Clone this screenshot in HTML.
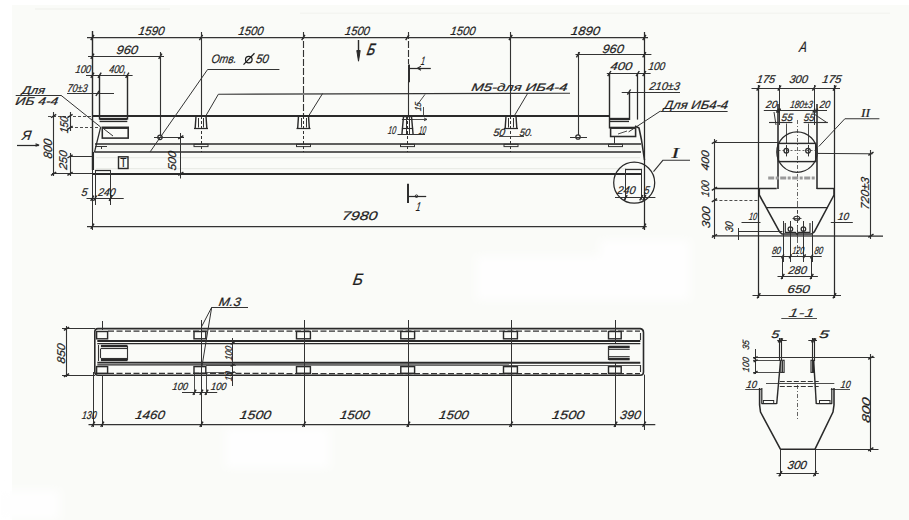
<!DOCTYPE html>
<html><head><meta charset="utf-8"><title>Drawing</title>
<style>
html,body{margin:0;padding:0;background:#fafbf8;}
svg{display:block;font-family:"Liberation Sans",sans-serif;}
</style></head>
<body>
<svg width="909" height="520" viewBox="0 0 909 520">
<defs><filter id="soft" x="-10%" y="-10%" width="120%" height="120%"><feGaussianBlur stdDeviation="4"/></filter></defs>
<rect x="0" y="0" width="909" height="520" fill="#fafbf8"/>
<rect x="0.0" y="0.0" width="909.0" height="5.0" fill="#ffffff"/>
<rect x="0.0" y="0.0" width="12.0" height="520.0" fill="#ffffff"/>
<g filter="url(#soft)" fill="#fefefe">
<rect x="476.0" y="256.0" width="179.0" height="44.0" fill="#fefefe"/>
<rect x="600.0" y="240.0" width="90.0" height="60.0" fill="#fefefe"/>
<rect x="225.0" y="428.0" width="105.0" height="40.0" fill="#fefefe"/>
<rect x="0.0" y="490.0" width="60.0" height="30.0" fill="#fefefe"/>
</g>
<rect x="35.0" y="8.0" width="135.0" height="2.0" fill="#f4f5f1"/>
<rect x="300.0" y="12.5" width="590.0" height="1.5" fill="#f4f5f1"/>
<rect x="96.0" y="145.0" width="544.0" height="5.5" fill="#f4f5f1"/>
<line x1="96.0" y1="157.5" x2="640.0" y2="157.5" stroke="#e9ebe6" stroke-width="1.25"/>
<line x1="96.0" y1="168.5" x2="640.0" y2="168.5" stroke="#e9ebe6" stroke-width="1.25"/>
<line x1="87.0" y1="37.5" x2="648.0" y2="37.5" stroke="#333333" stroke-width="1.25"/>
<line x1="90.8" y1="40.1" x2="94.0" y2="34.9" stroke="#2a2a2a" stroke-width="1.4300000000000002"/>
<line x1="199.4" y1="40.1" x2="202.6" y2="34.9" stroke="#2a2a2a" stroke-width="1.4300000000000002"/>
<line x1="301.7" y1="40.1" x2="304.9" y2="34.9" stroke="#2a2a2a" stroke-width="1.4300000000000002"/>
<line x1="405.7" y1="40.1" x2="408.9" y2="34.9" stroke="#2a2a2a" stroke-width="1.4300000000000002"/>
<line x1="509.0" y1="40.1" x2="512.2" y2="34.9" stroke="#2a2a2a" stroke-width="1.4300000000000002"/>
<line x1="642.7" y1="40.1" x2="645.9" y2="34.9" stroke="#2a2a2a" stroke-width="1.4300000000000002"/>
<text transform="translate(138.0,35.0) skewX(-9)" x="0" y="0" font-size="12.03" font-style="italic" font-weight="normal" fill="#1e1e1e" stroke="#1e1e1e" stroke-width="0.22" textLength="26.0" lengthAdjust="spacingAndGlyphs">1590</text>
<text transform="translate(238.0,35.0) skewX(-9)" x="0" y="0" font-size="12.03" font-style="italic" font-weight="normal" fill="#1e1e1e" stroke="#1e1e1e" stroke-width="0.22" textLength="25.0" lengthAdjust="spacingAndGlyphs">1500</text>
<text transform="translate(344.5,35.0) skewX(-9)" x="0" y="0" font-size="12.03" font-style="italic" font-weight="normal" fill="#1e1e1e" stroke="#1e1e1e" stroke-width="0.22" textLength="24.8" lengthAdjust="spacingAndGlyphs">1500</text>
<text transform="translate(450.0,35.0) skewX(-9)" x="0" y="0" font-size="12.03" font-style="italic" font-weight="normal" fill="#1e1e1e" stroke="#1e1e1e" stroke-width="0.22" textLength="25.0" lengthAdjust="spacingAndGlyphs">1500</text>
<text transform="translate(570.5,35.0) skewX(-9)" x="0" y="0" font-size="12.03" font-style="italic" font-weight="normal" fill="#1e1e1e" stroke="#1e1e1e" stroke-width="0.22" textLength="28.9" lengthAdjust="spacingAndGlyphs">1890</text>
<line x1="92.5" y1="31.0" x2="92.5" y2="170.0" stroke="#2a2a2a" stroke-width="1.4300000000000002"/>
<line x1="92.5" y1="170.0" x2="92.5" y2="230.0" stroke="#333333" stroke-width="1.0"/>
<line x1="644.5" y1="32.0" x2="644.5" y2="230.0" stroke="#2a2a2a" stroke-width="1.25"/>
<line x1="201.5" y1="32.0" x2="201.5" y2="116.0" stroke="#333333" stroke-width="1.125"/>
<line x1="510.5" y1="32.0" x2="510.5" y2="116.0" stroke="#333333" stroke-width="1.125"/>
<line x1="303.5" y1="32.0" x2="303.5" y2="116.0" stroke="#333333" stroke-width="1.125" stroke-dasharray="7,2"/>
<line x1="408.5" y1="32.0" x2="408.5" y2="64.0" stroke="#333333" stroke-width="1.125" stroke-dasharray="7,2"/>
<line x1="408.5" y1="82.0" x2="408.5" y2="116.0" stroke="#333333" stroke-width="1.125"/>
<line x1="201.5" y1="116.0" x2="201.5" y2="152.0" stroke="#333333" stroke-width="1.0" stroke-dasharray="3,2"/>
<line x1="303.5" y1="116.0" x2="303.5" y2="152.0" stroke="#333333" stroke-width="1.0" stroke-dasharray="3,2"/>
<line x1="407.5" y1="116.0" x2="407.5" y2="152.0" stroke="#333333" stroke-width="1.0" stroke-dasharray="3,2"/>
<line x1="510.5" y1="116.0" x2="510.5" y2="152.0" stroke="#333333" stroke-width="1.0" stroke-dasharray="3,2"/>
<line x1="88.0" y1="56.5" x2="164.0" y2="56.5" stroke="#333333" stroke-width="1.125"/>
<line x1="90.8" y1="58.8" x2="94.0" y2="53.6" stroke="#2a2a2a" stroke-width="1.4300000000000002"/>
<line x1="158.7" y1="58.8" x2="161.9" y2="53.6" stroke="#2a2a2a" stroke-width="1.4300000000000002"/>
<line x1="160.5" y1="52.0" x2="160.5" y2="135.0" stroke="#333333" stroke-width="1.125"/>
<text transform="translate(116.0,54.0) skewX(-9)" x="0" y="0" font-size="12.03" font-style="italic" font-weight="normal" fill="#1e1e1e" stroke="#1e1e1e" stroke-width="0.22" textLength="21.5" lengthAdjust="spacingAndGlyphs">960</text>
<line x1="575.5" y1="54.5" x2="651.4" y2="54.5" stroke="#333333" stroke-width="1.125"/>
<line x1="576.4" y1="57.3" x2="579.6" y2="52.1" stroke="#2a2a2a" stroke-width="1.4300000000000002"/>
<line x1="642.7" y1="57.3" x2="645.9" y2="52.1" stroke="#2a2a2a" stroke-width="1.4300000000000002"/>
<line x1="578.5" y1="52.0" x2="578.5" y2="135.0" stroke="#333333" stroke-width="1.125"/>
<text transform="translate(602.0,53.0) skewX(-9)" x="0" y="0" font-size="12.03" font-style="italic" font-weight="normal" fill="#1e1e1e" stroke="#1e1e1e" stroke-width="0.22" textLength="21.3" lengthAdjust="spacingAndGlyphs">960</text>
<line x1="86.0" y1="75.5" x2="132.6" y2="75.5" stroke="#333333" stroke-width="1.125"/>
<line x1="90.8" y1="77.9" x2="94.0" y2="72.7" stroke="#2a2a2a" stroke-width="1.4300000000000002"/>
<line x1="98.0" y1="77.9" x2="101.2" y2="72.7" stroke="#2a2a2a" stroke-width="1.4300000000000002"/>
<line x1="125.7" y1="77.9" x2="128.9" y2="72.7" stroke="#2a2a2a" stroke-width="1.4300000000000002"/>
<text transform="translate(75.0,73.0) skewX(-9)" x="0" y="0" font-size="11.28" font-style="italic" font-weight="normal" fill="#1e1e1e" stroke="#1e1e1e" stroke-width="0.22" textLength="15.5" lengthAdjust="spacingAndGlyphs">100</text>
<text transform="translate(108.7,73.0) skewX(-9)" x="0" y="0" font-size="11.28" font-style="italic" font-weight="normal" fill="#1e1e1e" stroke="#1e1e1e" stroke-width="0.22" textLength="17.3" lengthAdjust="spacingAndGlyphs">400,</text>
<line x1="606.8" y1="73.5" x2="650.6" y2="73.5" stroke="#333333" stroke-width="1.125"/>
<line x1="607.7" y1="76.2" x2="610.9" y2="71.0" stroke="#2a2a2a" stroke-width="1.4300000000000002"/>
<line x1="636.1" y1="76.2" x2="639.3" y2="71.0" stroke="#2a2a2a" stroke-width="1.4300000000000002"/>
<line x1="642.7" y1="76.2" x2="645.9" y2="71.0" stroke="#2a2a2a" stroke-width="1.4300000000000002"/>
<text transform="translate(610.0,70.3) skewX(-9)" x="0" y="0" font-size="11.28" font-style="italic" font-weight="normal" fill="#1e1e1e" stroke="#1e1e1e" stroke-width="0.22" textLength="21.6" lengthAdjust="spacingAndGlyphs">400</text>
<text transform="translate(648.0,70.3) skewX(-9)" x="0" y="0" font-size="11.28" font-style="italic" font-weight="normal" fill="#1e1e1e" stroke="#1e1e1e" stroke-width="0.22" textLength="16.6" lengthAdjust="spacingAndGlyphs">100</text>
<text transform="translate(67.0,91.6) skewX(-9)" x="0" y="0" font-size="11.28" font-style="italic" font-weight="normal" fill="#1e1e1e" stroke="#1e1e1e" stroke-width="0.22" textLength="20.0" lengthAdjust="spacingAndGlyphs">70±3</text>
<line x1="67.0" y1="93.5" x2="114.0" y2="93.5" stroke="#333333" stroke-width="1.125"/>
<line x1="95.9" y1="96.0" x2="99.1" y2="90.8" stroke="#2a2a2a" stroke-width="1.4300000000000002"/>
<text transform="translate(649.0,90.1) skewX(-9)" x="0" y="0" font-size="11.28" font-style="italic" font-weight="normal" fill="#1e1e1e" stroke="#1e1e1e" stroke-width="0.22" textLength="30.4" lengthAdjust="spacingAndGlyphs">210±3</text>
<line x1="621.7" y1="92.5" x2="680.0" y2="92.5" stroke="#333333" stroke-width="1.125"/>
<line x1="627.4" y1="94.7" x2="630.6" y2="89.5" stroke="#2a2a2a" stroke-width="1.4300000000000002"/>
<line x1="99.5" y1="75.3" x2="99.5" y2="119.6" stroke="#2a2a2a" stroke-width="1.4300000000000002"/>
<line x1="127.5" y1="75.3" x2="127.5" y2="119.6" stroke="#2a2a2a" stroke-width="1.4300000000000002"/>
<line x1="99.6" y1="119.0" x2="127.3" y2="119.0" stroke="#2a2a2a" stroke-width="2.3400000000000003"/>
<line x1="99.6" y1="121.5" x2="127.3" y2="121.5" stroke="#2a2a2a" stroke-width="1.25"/>
<rect x="102.3" y="127.3" width="25.9" height="10.8" stroke="#2a2a2a" stroke-width="1.56" fill="none"/>
<line x1="102.3" y1="128.5" x2="128.2" y2="128.5" stroke="#333333" stroke-width="1.0"/>
<line x1="104.0" y1="129.0" x2="113.0" y2="136.0" stroke="#333333" stroke-width="1.0"/>
<line x1="100.6" y1="127.3" x2="94.4" y2="152.5" stroke="#2a2a2a" stroke-width="1.25"/>
<line x1="609.5" y1="73.6" x2="609.5" y2="128.5" stroke="#2a2a2a" stroke-width="1.4300000000000002"/>
<line x1="637.5" y1="73.6" x2="637.5" y2="119.6" stroke="#2a2a2a" stroke-width="1.25"/>
<line x1="629.5" y1="92.0" x2="629.5" y2="120.0" stroke="#2a2a2a" stroke-width="1.4300000000000002"/>
<line x1="609.3" y1="119.0" x2="629.0" y2="119.0" stroke="#2a2a2a" stroke-width="2.3400000000000003"/>
<line x1="609.3" y1="121.5" x2="629.0" y2="121.5" stroke="#2a2a2a" stroke-width="1.25"/>
<rect x="610.6" y="127.5" width="25.0" height="9.0" stroke="#2a2a2a" stroke-width="1.56" fill="none"/>
<line x1="610.6" y1="128.5" x2="635.6" y2="128.5" stroke="#333333" stroke-width="1.0"/>
<line x1="614.5" y1="136.5" x2="614.5" y2="143.5" stroke="#333333" stroke-width="1.0"/>
<line x1="627.0" y1="131.0" x2="618.0" y2="134.0" stroke="#333333" stroke-width="0.875"/>
<polyline points="635.0,126.0 639.0,128.0 641.5,140.0 644.5,160.0" stroke="#2a2a2a" stroke-width="1.56" fill="none" stroke-linejoin="round"/>
<line x1="48.0" y1="116.5" x2="92.4" y2="116.5" stroke="#333333" stroke-width="0.875" stroke-dasharray="3,2"/>
<line x1="92.4" y1="116.0" x2="609.3" y2="116.0" stroke="#2a2a2a" stroke-width="1.885"/>
<line x1="95.0" y1="144.0" x2="641.0" y2="144.0" stroke="#2a2a2a" stroke-width="1.6900000000000002"/>
<line x1="95.0" y1="152.0" x2="641.0" y2="152.0" stroke="#2a2a2a" stroke-width="1.6900000000000002"/>
<line x1="52.0" y1="173.5" x2="92.4" y2="173.5" stroke="#333333" stroke-width="1.0"/>
<line x1="92.4" y1="174.0" x2="641.0" y2="174.0" stroke="#2a2a2a" stroke-width="1.885"/>
<line x1="70.0" y1="127.5" x2="101.0" y2="127.5" stroke="#333333" stroke-width="0.875" stroke-dasharray="3,2"/>
<line x1="71.0" y1="156.5" x2="92.0" y2="156.5" stroke="#333333" stroke-width="1.0"/>
<line x1="93.0" y1="152.0" x2="93.0" y2="170.0" stroke="#2a2a2a" stroke-width="2.08"/>
<line x1="95.0" y1="170.5" x2="110.7" y2="170.5" stroke="#2a2a2a" stroke-width="1.25"/>
<line x1="95.5" y1="170.0" x2="95.5" y2="205.0" stroke="#333333" stroke-width="1.0"/>
<line x1="110.5" y1="170.0" x2="110.5" y2="205.0" stroke="#333333" stroke-width="1.0"/>
<line x1="95.0" y1="146.5" x2="107.0" y2="146.5" stroke="#333333" stroke-width="1.0"/>
<line x1="101.5" y1="146.0" x2="101.5" y2="149.0" stroke="#333333" stroke-width="1.0"/>
<polyline points="195.2,128.0 196.0,116.0 206.0,116.0 206.8,128.0" stroke="#2a2a2a" stroke-width="1.4300000000000002" fill="none" stroke-linejoin="round"/>
<line x1="194.0" y1="128.5" x2="208.0" y2="128.5" stroke="#2a2a2a" stroke-width="1.25"/>
<line x1="198.5" y1="118.0" x2="198.5" y2="127.5" stroke="#333333" stroke-width="1.0"/>
<line x1="203.5" y1="118.0" x2="203.5" y2="127.5" stroke="#333333" stroke-width="1.0"/>
<polyline points="297.7,128.0 298.5,116.0 308.5,116.0 309.3,128.0" stroke="#2a2a2a" stroke-width="1.4300000000000002" fill="none" stroke-linejoin="round"/>
<line x1="296.5" y1="128.5" x2="310.5" y2="128.5" stroke="#2a2a2a" stroke-width="1.25"/>
<line x1="301.5" y1="118.0" x2="301.5" y2="127.5" stroke="#333333" stroke-width="1.0"/>
<line x1="306.5" y1="118.0" x2="306.5" y2="127.5" stroke="#333333" stroke-width="1.0"/>
<polyline points="505.2,128.0 506.0,116.0 516.0,116.0 516.8,128.0" stroke="#2a2a2a" stroke-width="1.4300000000000002" fill="none" stroke-linejoin="round"/>
<line x1="504.0" y1="128.5" x2="518.0" y2="128.5" stroke="#2a2a2a" stroke-width="1.25"/>
<line x1="508.5" y1="118.0" x2="508.5" y2="127.5" stroke="#333333" stroke-width="1.0"/>
<line x1="513.5" y1="118.0" x2="513.5" y2="127.5" stroke="#333333" stroke-width="1.0"/>
<polyline points="401.9,134.5 403.5,116.5 411.5,116.5 413.1,134.5" stroke="#2a2a2a" stroke-width="1.4300000000000002" fill="none" stroke-linejoin="round"/>
<line x1="401.9" y1="128.5" x2="413.1" y2="128.5" stroke="#2a2a2a" stroke-width="1.125"/>
<line x1="401.9" y1="119.5" x2="413.1" y2="119.5" stroke="#333333" stroke-width="1.0"/>
<line x1="406.5" y1="117.0" x2="406.5" y2="134.0" stroke="#333333" stroke-width="1.0"/>
<line x1="409.5" y1="117.0" x2="409.5" y2="134.0" stroke="#333333" stroke-width="1.0"/>
<line x1="397.5" y1="134.5" x2="425.0" y2="134.5" stroke="#333333" stroke-width="1.0"/>
<rect x="194.0" y="144.3" width="14.0" height="2.3" stroke="#333333" stroke-width="1.0" fill="none"/>
<rect x="296.5" y="144.3" width="14.0" height="2.3" stroke="#333333" stroke-width="1.0" fill="none"/>
<rect x="400.5" y="144.3" width="14.0" height="2.3" stroke="#333333" stroke-width="1.0" fill="none"/>
<rect x="504.0" y="144.3" width="14.0" height="2.3" stroke="#333333" stroke-width="1.0" fill="none"/>
<rect x="608.5" y="144.3" width="14.0" height="2.3" stroke="#333333" stroke-width="1.0" fill="none"/>
<line x1="218.4" y1="94.2" x2="570.0" y2="93.2" stroke="#333333" stroke-width="1.125"/>
<line x1="218.4" y1="94.2" x2="206.0" y2="115.5" stroke="#333333" stroke-width="1.0"/>
<line x1="322.6" y1="93.5" x2="308.9" y2="115.5" stroke="#333333" stroke-width="1.0"/>
<line x1="527.7" y1="93.3" x2="514.5" y2="115.5" stroke="#333333" stroke-width="1.0"/>
<text transform="translate(471.0,91.2) skewX(-9)" x="0" y="0" font-size="10.83" font-style="italic" font-weight="normal" fill="#1e1e1e" stroke="#1e1e1e" stroke-width="0.22" textLength="96.0" lengthAdjust="spacingAndGlyphs">М5-для ИБ4-4</text>
<text transform="translate(211.0,62.8) skewX(-9)" x="0" y="0" font-size="12.33" font-style="italic" font-weight="normal" fill="#1e1e1e" stroke="#1e1e1e" stroke-width="0.22" textLength="25.1" lengthAdjust="spacingAndGlyphs">Отв.</text>
<circle cx="248.8" cy="59.6" r="3.3" stroke="#1e1e1e" stroke-width="1.25" fill="none"/>
<line x1="243.5" y1="64.6" x2="254.5" y2="53.2" stroke="#1e1e1e" stroke-width="1.25"/>
<text transform="translate(255.4,62.8) skewX(-9)" x="0" y="0" font-size="12.33" font-style="italic" font-weight="normal" fill="#1e1e1e" stroke="#1e1e1e" stroke-width="0.22" textLength="12.9" lengthAdjust="spacingAndGlyphs">50</text>
<line x1="207.6" y1="69.5" x2="279.4" y2="69.5" stroke="#333333" stroke-width="1.125"/>
<line x1="207.6" y1="69.5" x2="150.0" y2="152.0" stroke="#333333" stroke-width="1.0"/>
<circle cx="160.0" cy="137.3" r="2.2" stroke="#2a2a2a" stroke-width="1.25" fill="none"/>
<line x1="154.0" y1="137.5" x2="184.0" y2="137.5" stroke="#333333" stroke-width="1.0"/>
<circle cx="578.0" cy="137.0" r="2.2" stroke="#2a2a2a" stroke-width="1.25" fill="none"/>
<line x1="570.0" y1="137.5" x2="587.0" y2="137.5" stroke="#333333" stroke-width="1.0"/>
<line x1="180.5" y1="133.0" x2="180.5" y2="178.5" stroke="#333333" stroke-width="1.0"/>
<line x1="178.2" y1="138.9" x2="183.4" y2="135.7" stroke="#2a2a2a" stroke-width="1.4300000000000002"/>
<line x1="178.2" y1="175.4" x2="183.4" y2="172.2" stroke="#2a2a2a" stroke-width="1.4300000000000002"/>
<text transform="translate(175.8,170.8) rotate(-90) skewX(-9)" x="0" y="0" font-size="11.28" font-style="italic" fill="#1e1e1e" stroke="#1e1e1e" stroke-width="0.22" textLength="19.3" lengthAdjust="spacingAndGlyphs">500</text>
<line x1="53.5" y1="112.0" x2="53.5" y2="176.0" stroke="#333333" stroke-width="1.125"/>
<line x1="51.0" y1="117.6" x2="56.2" y2="114.4" stroke="#2a2a2a" stroke-width="1.4300000000000002"/>
<line x1="51.0" y1="175.4" x2="56.2" y2="172.2" stroke="#2a2a2a" stroke-width="1.4300000000000002"/>
<text transform="translate(51.5,159.0) rotate(-90) skewX(-9)" x="0" y="0" font-size="12.03" font-style="italic" fill="#1e1e1e" stroke="#1e1e1e" stroke-width="0.22" textLength="19.6" lengthAdjust="spacingAndGlyphs">800</text>
<line x1="70.5" y1="112.0" x2="70.5" y2="131.0" stroke="#333333" stroke-width="1.125"/>
<line x1="67.4" y1="117.6" x2="72.6" y2="114.4" stroke="#2a2a2a" stroke-width="1.4300000000000002"/>
<line x1="67.4" y1="129.4" x2="72.6" y2="126.2" stroke="#2a2a2a" stroke-width="1.4300000000000002"/>
<text transform="translate(68.2,133.6) rotate(-90) skewX(-9)" x="0" y="0" font-size="11.28" font-style="italic" fill="#1e1e1e" stroke="#1e1e1e" stroke-width="0.22" textLength="16.6" lengthAdjust="spacingAndGlyphs">150</text>
<line x1="70.5" y1="153.0" x2="70.5" y2="176.0" stroke="#333333" stroke-width="1.125"/>
<line x1="67.4" y1="158.0" x2="72.6" y2="154.8" stroke="#2a2a2a" stroke-width="1.4300000000000002"/>
<line x1="67.4" y1="175.4" x2="72.6" y2="172.2" stroke="#2a2a2a" stroke-width="1.4300000000000002"/>
<text transform="translate(67.3,170.0) rotate(-90) skewX(-9)" x="0" y="0" font-size="11.28" font-style="italic" fill="#1e1e1e" stroke="#1e1e1e" stroke-width="0.22" textLength="19.0" lengthAdjust="spacingAndGlyphs">250</text>
<rect x="118.5" y="156.8" width="9.5" height="11.7" stroke="#2a2a2a" stroke-width="1.4300000000000002" fill="none"/>
<text transform="translate(120.3,166.5) skewX(0)" x="0" y="0" font-size="12.03" font-style="normal" font-weight="normal" fill="#1e1e1e" stroke="#1e1e1e" stroke-width="0.22" textLength="6.2" lengthAdjust="spacingAndGlyphs">T</text>
<text transform="translate(81.0,196.0) skewX(-9)" x="0" y="0" font-size="11.28" font-style="italic" font-weight="normal" fill="#1e1e1e" stroke="#1e1e1e" stroke-width="0.22" textLength="6.0" lengthAdjust="spacingAndGlyphs">5</text>
<text transform="translate(97.8,196.0) skewX(-9)" x="0" y="0" font-size="11.28" font-style="italic" font-weight="normal" fill="#1e1e1e" stroke="#1e1e1e" stroke-width="0.22" textLength="17.2" lengthAdjust="spacingAndGlyphs">240</text>
<line x1="86.5" y1="198.5" x2="123.7" y2="198.5" stroke="#333333" stroke-width="1.125"/>
<line x1="90.7" y1="200.9" x2="93.9" y2="195.7" stroke="#2a2a2a" stroke-width="1.4300000000000002"/>
<line x1="93.5" y1="200.9" x2="96.7" y2="195.7" stroke="#2a2a2a" stroke-width="1.4300000000000002"/>
<line x1="109.1" y1="200.9" x2="112.3" y2="195.7" stroke="#2a2a2a" stroke-width="1.4300000000000002"/>
<line x1="87.0" y1="226.5" x2="646.7" y2="226.5" stroke="#333333" stroke-width="1.25"/>
<line x1="90.8" y1="228.9" x2="94.0" y2="223.7" stroke="#2a2a2a" stroke-width="1.4300000000000002"/>
<line x1="642.7" y1="228.9" x2="645.9" y2="223.7" stroke="#2a2a2a" stroke-width="1.4300000000000002"/>
<text transform="translate(341.5,219.5) skewX(-9)" x="0" y="0" font-size="12.48" font-style="italic" font-weight="normal" fill="#1e1e1e" stroke="#1e1e1e" stroke-width="0.22" textLength="35.5" lengthAdjust="spacingAndGlyphs">7980</text>
<text transform="translate(387.5,134.4) skewX(-9)" x="0" y="0" font-size="11.28" font-style="italic" font-weight="normal" fill="#1e1e1e" stroke="#1e1e1e" stroke-width="0.22" textLength="8.1" lengthAdjust="spacingAndGlyphs">10</text>
<text transform="translate(418.6,134.4) skewX(-9)" x="0" y="0" font-size="11.28" font-style="italic" font-weight="normal" fill="#1e1e1e" stroke="#1e1e1e" stroke-width="0.22" textLength="6.9" lengthAdjust="spacingAndGlyphs">10</text>
<text transform="translate(493.0,135.8) skewX(-9)" x="0" y="0" font-size="10.53" font-style="italic" font-weight="normal" fill="#1e1e1e" stroke="#1e1e1e" stroke-width="0.22" textLength="11.6" lengthAdjust="spacingAndGlyphs">50</text>
<text transform="translate(519.2,135.8) skewX(-9)" x="0" y="0" font-size="10.53" font-style="italic" font-weight="normal" fill="#1e1e1e" stroke="#1e1e1e" stroke-width="0.22" textLength="13.1" lengthAdjust="spacingAndGlyphs">50.</text>
<line x1="499.0" y1="136.5" x2="524.0" y2="136.5" stroke="#333333" stroke-width="0.875"/>
<text transform="translate(421.0,111.3) rotate(-90) skewX(-9)" x="0" y="0" font-size="8.72" font-style="italic" fill="#1e1e1e" stroke="#1e1e1e" stroke-width="0.22" textLength="8.6" lengthAdjust="spacingAndGlyphs">15</text>
<line x1="425.0" y1="94.4" x2="418.0" y2="103.8" stroke="#333333" stroke-width="0.875"/>
<line x1="423.5" y1="107.0" x2="423.5" y2="117.0" stroke="#333333" stroke-width="0.875"/>
<line x1="413.0" y1="119.5" x2="427.0" y2="119.5" stroke="#333333" stroke-width="0.875"/>
<polyline points="424.0,118.0 427.0,119.4 424.0,120.8" stroke="#333333" stroke-width="0.875" fill="none" stroke-linejoin="round"/>
<line x1="409.0" y1="64.6" x2="409.0" y2="82.3" stroke="#2a2a2a" stroke-width="1.9500000000000002"/>
<line x1="409.0" y1="68.5" x2="430.8" y2="68.5" stroke="#2a2a2a" stroke-width="1.25"/>
<polyline points="421.0,66.2 417.5,68.2 421.0,70.2" stroke="#2a2a2a" stroke-width="1.125" fill="none" stroke-linejoin="round"/>
<text transform="translate(420.5,64.5) skewX(-9)" x="0" y="0" font-size="12.03" font-style="italic" font-weight="normal" fill="#1e1e1e" stroke="#1e1e1e" stroke-width="0.22" textLength="4.0" lengthAdjust="spacingAndGlyphs">1</text>
<line x1="408.0" y1="183.8" x2="408.0" y2="203.0" stroke="#2a2a2a" stroke-width="1.9500000000000002"/>
<line x1="408.5" y1="196.5" x2="426.2" y2="196.5" stroke="#2a2a2a" stroke-width="1.25"/>
<circle cx="416.5" cy="196.2" r="1.3" stroke="#2a2a2a" stroke-width="1.0" fill="none"/>
<text transform="translate(415.4,211.0) skewX(-9)" x="0" y="0" font-size="12.63" font-style="italic" font-weight="normal" fill="#1e1e1e" stroke="#1e1e1e" stroke-width="0.22" textLength="4.6" lengthAdjust="spacingAndGlyphs">1</text>
<line x1="358.5" y1="40.0" x2="358.5" y2="56.0" stroke="#2a2a2a" stroke-width="1.4300000000000002"/>
<polygon points="356.8,50.5 358.5,61.2 360.2,50.5" stroke="#2a2a2a" stroke-width="1.0" fill="#2a2a2a" stroke-linejoin="round"/>
<text transform="translate(366.2,55.2) skewX(-12)" font-size="16.5" font-style="italic" fill="#1e1e1e" stroke="#1e1e1e" stroke-width="0.5" textLength="8" lengthAdjust="spacingAndGlyphs">Б</text>
<text transform="translate(21.5,140.0) skewX(-9)" x="0" y="0" font-size="13.53" font-style="italic" font-weight="normal" fill="#1e1e1e" stroke="#1e1e1e" stroke-width="0.22" textLength="9.0" lengthAdjust="spacingAndGlyphs">Я</text>
<line x1="17.0" y1="145.5" x2="38.8" y2="145.5" stroke="#2a2a2a" stroke-width="1.25"/>
<polyline points="35.5,146.2 38.8,145.0 35.5,143.8" stroke="#2a2a2a" stroke-width="1.25" fill="none" stroke-linejoin="round"/>
<text transform="translate(21.5,94.0) skewX(-9)" x="0" y="0" font-size="11.28" font-style="italic" font-weight="normal" fill="#1e1e1e" stroke="#1e1e1e" stroke-width="0.22" textLength="23.0" lengthAdjust="spacingAndGlyphs">Для</text>
<text transform="translate(15.0,104.7) skewX(-9)" x="0" y="0" font-size="11.28" font-style="italic" font-weight="normal" fill="#1e1e1e" stroke="#1e1e1e" stroke-width="0.22" textLength="42.7" lengthAdjust="spacingAndGlyphs">ИБ 4-4</text>
<line x1="15.7" y1="95.5" x2="61.0" y2="95.5" stroke="#333333" stroke-width="1.125"/>
<line x1="61.0" y1="95.3" x2="100.6" y2="127.0" stroke="#333333" stroke-width="1.0"/>
<text transform="translate(663.6,108.8) skewX(-9)" x="0" y="0" font-size="12.03" font-style="italic" font-weight="normal" fill="#1e1e1e" stroke="#1e1e1e" stroke-width="0.22" textLength="64.0" lengthAdjust="spacingAndGlyphs">Для  ИБ4-4</text>
<line x1="660.3" y1="111.5" x2="727.6" y2="111.5" stroke="#333333" stroke-width="1.125"/>
<line x1="660.3" y1="111.1" x2="628.6" y2="131.9" stroke="#333333" stroke-width="1.0"/>
<circle cx="634.2" cy="182.7" r="20.5" stroke="#2a2a2a" stroke-width="1.25" fill="none"/>
<polyline points="653.5,171.7 663.0,160.2 690.0,160.2" stroke="#333333" stroke-width="1.125" fill="none" stroke-linejoin="round"/>
<text transform="translate(671.5,158.3)" font-family="Liberation Serif" font-style="italic" font-size="15" fill="#1e1e1e" stroke="#1e1e1e" stroke-width="0.22" textLength="7.5" lengthAdjust="spacingAndGlyphs">I</text>
<text transform="translate(617.0,193.8) skewX(-9)" x="0" y="0" font-size="11.28" font-style="italic" font-weight="normal" fill="#1e1e1e" stroke="#1e1e1e" stroke-width="0.22" textLength="18.0" lengthAdjust="spacingAndGlyphs">240</text>
<text transform="translate(643.8,193.8) skewX(-9)" x="0" y="0" font-size="11.28" font-style="italic" font-weight="normal" fill="#1e1e1e" stroke="#1e1e1e" stroke-width="0.22" textLength="5.2" lengthAdjust="spacingAndGlyphs">5</text>
<line x1="615.0" y1="197.5" x2="655.4" y2="197.5" stroke="#333333" stroke-width="1.125"/>
<line x1="625.5" y1="168.8" x2="625.5" y2="199.7" stroke="#333333" stroke-width="1.0"/>
<line x1="641.5" y1="168.8" x2="641.5" y2="199.7" stroke="#333333" stroke-width="1.0"/>
<line x1="625.6" y1="169.5" x2="641.3" y2="169.5" stroke="#333333" stroke-width="1.25"/>
<line x1="624.0" y1="200.3" x2="627.2" y2="195.1" stroke="#2a2a2a" stroke-width="1.4300000000000002"/>
<line x1="639.7" y1="200.3" x2="642.9" y2="195.1" stroke="#2a2a2a" stroke-width="1.4300000000000002"/>
<line x1="642.7" y1="200.3" x2="645.9" y2="195.1" stroke="#2a2a2a" stroke-width="1.4300000000000002"/>
<text transform="translate(798.7,51.5) skewX(-9)" x="0" y="0" font-size="15.04" font-style="italic" font-weight="normal" fill="#1e1e1e" stroke="#1e1e1e" stroke-width="0.22" textLength="7.6" lengthAdjust="spacingAndGlyphs">А</text>
<line x1="751.5" y1="88.5" x2="840.0" y2="88.5" stroke="#333333" stroke-width="1.125"/>
<line x1="756.7" y1="90.7" x2="759.9" y2="85.5" stroke="#2a2a2a" stroke-width="1.4300000000000002"/>
<line x1="777.8" y1="90.7" x2="781.0" y2="85.5" stroke="#2a2a2a" stroke-width="1.4300000000000002"/>
<line x1="812.4" y1="90.7" x2="815.6" y2="85.5" stroke="#2a2a2a" stroke-width="1.4300000000000002"/>
<line x1="833.0" y1="90.7" x2="836.2" y2="85.5" stroke="#2a2a2a" stroke-width="1.4300000000000002"/>
<text transform="translate(756.3,82.9) skewX(-9)" x="0" y="0" font-size="11.28" font-style="italic" font-weight="normal" fill="#1e1e1e" stroke="#1e1e1e" stroke-width="0.22" textLength="18.3" lengthAdjust="spacingAndGlyphs">175</text>
<text transform="translate(789.0,82.9) skewX(-9)" x="0" y="0" font-size="11.28" font-style="italic" font-weight="normal" fill="#1e1e1e" stroke="#1e1e1e" stroke-width="0.22" textLength="18.3" lengthAdjust="spacingAndGlyphs">300</text>
<text transform="translate(821.7,82.9) skewX(-9)" x="0" y="0" font-size="11.28" font-style="italic" font-weight="normal" fill="#1e1e1e" stroke="#1e1e1e" stroke-width="0.22" textLength="19.3" lengthAdjust="spacingAndGlyphs">175</text>
<line x1="758.5" y1="85.0" x2="758.5" y2="298.0" stroke="#2a2a2a" stroke-width="1.25"/>
<line x1="834.5" y1="85.0" x2="834.5" y2="298.0" stroke="#2a2a2a" stroke-width="1.25"/>
<line x1="779.5" y1="85.0" x2="779.5" y2="125.0" stroke="#333333" stroke-width="1.0"/>
<line x1="814.5" y1="85.0" x2="814.5" y2="125.0" stroke="#333333" stroke-width="1.0"/>
<line x1="778.0" y1="104.0" x2="778.0" y2="189.0" stroke="#2a2a2a" stroke-width="1.56"/>
<line x1="817.0" y1="104.0" x2="817.0" y2="189.0" stroke="#2a2a2a" stroke-width="1.56"/>
<line x1="763.8" y1="110.5" x2="827.0" y2="110.5" stroke="#333333" stroke-width="1.125"/>
<line x1="776.4" y1="112.6" x2="778.8" y2="108.6" stroke="#2a2a2a" stroke-width="1.4300000000000002"/>
<line x1="778.2" y1="112.6" x2="780.6" y2="108.6" stroke="#2a2a2a" stroke-width="1.4300000000000002"/>
<line x1="812.8" y1="112.6" x2="815.2" y2="108.6" stroke="#2a2a2a" stroke-width="1.4300000000000002"/>
<line x1="815.4" y1="112.6" x2="817.8" y2="108.6" stroke="#2a2a2a" stroke-width="1.4300000000000002"/>
<text transform="translate(765.6,108.0) skewX(-9)" x="0" y="0" font-size="10.53" font-style="italic" font-weight="normal" fill="#1e1e1e" stroke="#1e1e1e" stroke-width="0.22" textLength="11.2" lengthAdjust="spacingAndGlyphs">20</text>
<text transform="translate(789.8,108.0) skewX(-9)" x="0" y="0" font-size="10.53" font-style="italic" font-weight="normal" fill="#1e1e1e" stroke="#1e1e1e" stroke-width="0.22" textLength="22.5" lengthAdjust="spacingAndGlyphs">180±3</text>
<text transform="translate(819.2,108.0) skewX(-9)" x="0" y="0" font-size="10.53" font-style="italic" font-weight="normal" fill="#1e1e1e" stroke="#1e1e1e" stroke-width="0.22" textLength="10.4" lengthAdjust="spacingAndGlyphs">20</text>
<line x1="769.0" y1="122.5" x2="792.4" y2="122.5" stroke="#333333" stroke-width="1.125"/>
<line x1="803.6" y1="122.5" x2="827.9" y2="122.5" stroke="#333333" stroke-width="1.125"/>
<text transform="translate(781.1,121.0) skewX(-9)" x="0" y="0" font-size="10.53" font-style="italic" font-weight="normal" fill="#1e1e1e" stroke="#1e1e1e" stroke-width="0.22" textLength="11.3" lengthAdjust="spacingAndGlyphs">55</text>
<text transform="translate(803.6,121.0) skewX(-9)" x="0" y="0" font-size="10.53" font-style="italic" font-weight="normal" fill="#1e1e1e" stroke="#1e1e1e" stroke-width="0.22" textLength="10.4" lengthAdjust="spacingAndGlyphs">55</text>
<line x1="814.0" y1="114.0" x2="827.0" y2="122.7" stroke="#333333" stroke-width="1.0"/>
<line x1="774.0" y1="112.0" x2="776.0" y2="125.0" stroke="#333333" stroke-width="1.0"/>
<line x1="786.5" y1="123.5" x2="786.5" y2="143.4" stroke="#333333" stroke-width="0.875"/>
<line x1="808.5" y1="123.5" x2="808.5" y2="143.4" stroke="#333333" stroke-width="0.875"/>
<circle cx="797.0" cy="152.1" r="20.2" stroke="#2a2a2a" stroke-width="1.25" fill="none"/>
<rect x="778.5" y="143.4" width="37.2" height="18.2" stroke="#2a2a2a" stroke-width="1.4300000000000002" fill="none"/>
<circle cx="786.3" cy="150.7" r="2.3" stroke="#2a2a2a" stroke-width="1.25" fill="none"/>
<circle cx="808.0" cy="150.7" r="2.3" stroke="#2a2a2a" stroke-width="1.25" fill="none"/>
<line x1="786.5" y1="145.0" x2="786.5" y2="156.4" stroke="#333333" stroke-width="1.0"/>
<line x1="808.5" y1="145.0" x2="808.5" y2="156.4" stroke="#333333" stroke-width="1.0"/>
<line x1="778.5" y1="150.5" x2="815.7" y2="150.5" stroke="#333333" stroke-width="0.75" stroke-dasharray="2,2"/>
<line x1="797.5" y1="120.0" x2="797.5" y2="240.0" stroke="#333333" stroke-width="0.75" stroke-dasharray="4,2,1,2"/>
<polyline points="844.8,118.8 879.4,118.8" stroke="#333333" stroke-width="1.125" fill="none" stroke-linejoin="round"/>
<line x1="844.8" y1="118.8" x2="818.8" y2="146.5" stroke="#333333" stroke-width="1.0"/>
<text transform="translate(861,116.5)" font-family="Liberation Serif" font-style="italic" font-size="12" fill="#1e1e1e" stroke="#1e1e1e" stroke-width="0.22" textLength="9" lengthAdjust="spacingAndGlyphs">II</text>
<line x1="714.5" y1="139.0" x2="714.5" y2="239.0" stroke="#333333" stroke-width="1.125"/>
<line x1="711.8" y1="143.7" x2="717.0" y2="140.5" stroke="#2a2a2a" stroke-width="1.4300000000000002"/>
<line x1="711.8" y1="190.3" x2="717.0" y2="187.1" stroke="#2a2a2a" stroke-width="1.4300000000000002"/>
<line x1="711.8" y1="201.8" x2="717.0" y2="198.6" stroke="#2a2a2a" stroke-width="1.4300000000000002"/>
<line x1="711.8" y1="237.5" x2="717.0" y2="234.3" stroke="#2a2a2a" stroke-width="1.4300000000000002"/>
<line x1="714.4" y1="142.5" x2="778.0" y2="142.5" stroke="#333333" stroke-width="1.0"/>
<text transform="translate(709.4,170.7) rotate(-90) skewX(-9)" x="0" y="0" font-size="10.98" font-style="italic" fill="#1e1e1e" stroke="#1e1e1e" stroke-width="0.22" textLength="19.7" lengthAdjust="spacingAndGlyphs">400</text>
<text transform="translate(709.4,197.3) rotate(-90) skewX(-9)" x="0" y="0" font-size="10.98" font-style="italic" fill="#1e1e1e" stroke="#1e1e1e" stroke-width="0.22" textLength="16.3" lengthAdjust="spacingAndGlyphs">100</text>
<text transform="translate(709.6,228.4) rotate(-90) skewX(-9)" x="0" y="0" font-size="11.43" font-style="italic" fill="#1e1e1e" stroke="#1e1e1e" stroke-width="0.22" textLength="21.4" lengthAdjust="spacingAndGlyphs">300</text>
<line x1="714.4" y1="188.5" x2="776.7" y2="188.5" stroke="#2a2a2a" stroke-width="1.4300000000000002"/>
<line x1="816.7" y1="188.5" x2="834.4" y2="188.5" stroke="#2a2a2a" stroke-width="1.4300000000000002"/>
<line x1="714.4" y1="200.5" x2="758.0" y2="200.5" stroke="#333333" stroke-width="0.875" stroke-dasharray="3,2"/>
<polyline points="759.3,188.7 759.3,195.0 779.6,231.9 782.0,234.0 811.5,234.0 814.3,231.9 834.0,195.0 834.0,188.7" stroke="#2a2a2a" stroke-width="1.56" fill="none" stroke-linejoin="round"/>
<line x1="766.0" y1="207.5" x2="827.5" y2="207.5" stroke="#2a2a2a" stroke-width="1.25"/>
<line x1="768.2" y1="178.0" x2="815.7" y2="178.0" stroke="#9a9a9a" stroke-width="3.12" stroke-dasharray="6,1.5,3,1.5"/>
<text transform="translate(733.4,232.5) rotate(-90) skewX(-9)" x="0" y="0" font-size="11.13" font-style="italic" fill="#1e1e1e" stroke="#1e1e1e" stroke-width="0.22" textLength="10.4" lengthAdjust="spacingAndGlyphs">30</text>
<line x1="738.5" y1="228.0" x2="738.5" y2="240.0" stroke="#333333" stroke-width="1.0"/>
<text transform="translate(748.4,220.4) skewX(-9)" x="0" y="0" font-size="10.53" font-style="italic" font-weight="normal" fill="#1e1e1e" stroke="#1e1e1e" stroke-width="0.22" textLength="8.1" lengthAdjust="spacingAndGlyphs">10</text>
<line x1="741.5" y1="222.5" x2="760.5" y2="222.5" stroke="#333333" stroke-width="1.0"/>
<text transform="translate(837.4,220.2) skewX(-9)" x="0" y="0" font-size="10.53" font-style="italic" font-weight="normal" fill="#1e1e1e" stroke="#1e1e1e" stroke-width="0.22" textLength="11.0" lengthAdjust="spacingAndGlyphs">10</text>
<line x1="830.8" y1="222.5" x2="852.8" y2="222.5" stroke="#333333" stroke-width="1.0"/>
<line x1="738.0" y1="231.5" x2="782.4" y2="231.5" stroke="#333333" stroke-width="1.0"/>
<line x1="712.0" y1="235.9" x2="883.0" y2="236.2" stroke="#2a2a2a" stroke-width="1.25"/>
<line x1="870.5" y1="150.0" x2="870.5" y2="239.0" stroke="#333333" stroke-width="1.125"/>
<line x1="868.3" y1="155.4" x2="873.5" y2="152.2" stroke="#2a2a2a" stroke-width="1.4300000000000002"/>
<line x1="868.3" y1="237.4" x2="873.5" y2="234.2" stroke="#2a2a2a" stroke-width="1.4300000000000002"/>
<line x1="815.7" y1="153.4" x2="872.6" y2="153.8" stroke="#333333" stroke-width="1.0"/>
<text transform="translate(868.5,210.0) rotate(-90) skewX(-9)" x="0" y="0" font-size="11.58" font-style="italic" fill="#1e1e1e" stroke="#1e1e1e" stroke-width="0.22" textLength="32.3" lengthAdjust="spacingAndGlyphs">720±3</text>
<ellipse cx="796.8" cy="218.2" rx="3" ry="2" stroke="#2a2a2a" stroke-width="1.1" fill="none"/>
<line x1="792.5" y1="218.5" x2="801.5" y2="218.5" stroke="#333333" stroke-width="0.875"/>
<circle cx="790.4" cy="229.1" r="2.3" stroke="#2a2a2a" stroke-width="1.25" fill="none"/>
<circle cx="803.4" cy="229.1" r="2.3" stroke="#2a2a2a" stroke-width="1.25" fill="none"/>
<line x1="783.5" y1="221.0" x2="783.5" y2="262.0" stroke="#333333" stroke-width="1.0"/>
<line x1="790.5" y1="221.0" x2="790.5" y2="262.0" stroke="#333333" stroke-width="1.0"/>
<line x1="803.5" y1="221.0" x2="803.5" y2="262.0" stroke="#333333" stroke-width="1.0"/>
<line x1="812.5" y1="221.0" x2="812.5" y2="262.0" stroke="#333333" stroke-width="1.0"/>
<polyline points="785.3,223.0 785.3,232.4 795.5,232.4 797.0,234.5 798.5,232.4 810.0,232.4 810.0,223.0" stroke="#2a2a2a" stroke-width="1.125" fill="none" stroke-linejoin="round"/>
<line x1="797.5" y1="205.0" x2="797.5" y2="256.0" stroke="#333333" stroke-width="0.75" stroke-dasharray="3,2"/>
<line x1="771.7" y1="256.5" x2="821.7" y2="256.5" stroke="#333333" stroke-width="1.125"/>
<line x1="781.5" y1="258.3" x2="783.9" y2="254.3" stroke="#2a2a2a" stroke-width="1.4300000000000002"/>
<line x1="789.2" y1="258.3" x2="791.6" y2="254.3" stroke="#2a2a2a" stroke-width="1.4300000000000002"/>
<line x1="803.2" y1="258.3" x2="805.6" y2="254.3" stroke="#2a2a2a" stroke-width="1.4300000000000002"/>
<line x1="810.5" y1="258.3" x2="812.9" y2="254.3" stroke="#2a2a2a" stroke-width="1.4300000000000002"/>
<text transform="translate(771.7,254.4) skewX(-9)" x="0" y="0" font-size="10.53" font-style="italic" font-weight="normal" fill="#1e1e1e" stroke="#1e1e1e" stroke-width="0.22" textLength="8.7" lengthAdjust="spacingAndGlyphs">80</text>
<text transform="translate(792.0,254.4) skewX(-9)" x="0" y="0" font-size="10.53" font-style="italic" font-weight="normal" fill="#1e1e1e" stroke="#1e1e1e" stroke-width="0.22" textLength="11.5" lengthAdjust="spacingAndGlyphs">120</text>
<text transform="translate(814.0,254.4) skewX(-9)" x="0" y="0" font-size="10.53" font-style="italic" font-weight="normal" fill="#1e1e1e" stroke="#1e1e1e" stroke-width="0.22" textLength="8.7" lengthAdjust="spacingAndGlyphs">80</text>
<line x1="777.5" y1="276.5" x2="817.9" y2="276.5" stroke="#333333" stroke-width="1.125"/>
<line x1="782.5" y1="256.0" x2="782.5" y2="279.0" stroke="#333333" stroke-width="1.0"/>
<line x1="811.5" y1="256.0" x2="811.5" y2="279.0" stroke="#333333" stroke-width="1.0"/>
<line x1="781.1" y1="279.1" x2="784.3" y2="273.9" stroke="#2a2a2a" stroke-width="1.4300000000000002"/>
<line x1="810.1" y1="279.1" x2="813.3" y2="273.9" stroke="#2a2a2a" stroke-width="1.4300000000000002"/>
<text transform="translate(788.0,273.7) skewX(-9)" x="0" y="0" font-size="11.28" font-style="italic" font-weight="normal" fill="#1e1e1e" stroke="#1e1e1e" stroke-width="0.22" textLength="18.3" lengthAdjust="spacingAndGlyphs">280</text>
<line x1="752.5" y1="295.5" x2="841.0" y2="295.5" stroke="#333333" stroke-width="1.125"/>
<line x1="757.1" y1="298.4" x2="760.3" y2="293.2" stroke="#2a2a2a" stroke-width="1.4300000000000002"/>
<line x1="832.9" y1="298.4" x2="836.1" y2="293.2" stroke="#2a2a2a" stroke-width="1.4300000000000002"/>
<text transform="translate(787.0,292.9) skewX(-9)" x="0" y="0" font-size="11.28" font-style="italic" font-weight="normal" fill="#1e1e1e" stroke="#1e1e1e" stroke-width="0.22" textLength="22.2" lengthAdjust="spacingAndGlyphs">650</text>
<text transform="translate(788,317) skewX(-9)" font-size="12.5" font-style="italic" fill="#333" textLength="26" lengthAdjust="spacingAndGlyphs">1-1</text>
<line x1="781.3" y1="318.5" x2="817.0" y2="318.5" stroke="#333333" stroke-width="0.875"/>
<text transform="translate(352.3,285.0) skewX(-9)" x="0" y="0" font-size="16.54" font-style="italic" font-weight="normal" fill="#1e1e1e" stroke="#1e1e1e" stroke-width="0.22" textLength="10.0" lengthAdjust="spacingAndGlyphs">Б</text>
<line x1="62.0" y1="328.5" x2="95.0" y2="328.5" stroke="#333333" stroke-width="1.0"/>
<line x1="62.0" y1="375.5" x2="95.0" y2="375.5" stroke="#333333" stroke-width="1.0"/>
<line x1="66.5" y1="326.0" x2="66.5" y2="377.0" stroke="#333333" stroke-width="1.125"/>
<line x1="63.9" y1="330.4" x2="69.1" y2="327.2" stroke="#2a2a2a" stroke-width="1.4300000000000002"/>
<line x1="63.9" y1="376.8" x2="69.1" y2="373.6" stroke="#2a2a2a" stroke-width="1.4300000000000002"/>
<text transform="translate(64.8,364.0) rotate(-90) skewX(-9)" x="0" y="0" font-size="11.28" font-style="italic" fill="#1e1e1e" stroke="#1e1e1e" stroke-width="0.22" textLength="20.0" lengthAdjust="spacingAndGlyphs">850</text>
<path d="M98,328.6 H640.3 Q643.5,329 643.5,332.5 V372 Q643.5,375.3 640.3,375.3 H98 Q94.8,375.3 94.8,372 V332 Q94.8,328.6 98,328.6 Z" fill="none" stroke="#2a2a2a" stroke-width="1.6"/>
<line x1="108.0" y1="331.0" x2="640.0" y2="331.2" stroke="#333333" stroke-width="1.25" stroke-dasharray="6,2.5"/>
<line x1="108.0" y1="373.4" x2="640.0" y2="373.7" stroke="#333333" stroke-width="1.25" stroke-dasharray="6,2.5"/>
<line x1="97.3" y1="341.0" x2="640.3" y2="341.0" stroke="#2a2a2a" stroke-width="1.9500000000000002"/>
<line x1="97.3" y1="343.5" x2="640.3" y2="343.5" stroke="#2a2a2a" stroke-width="1.25"/>
<line x1="97.3" y1="362.6" x2="640.3" y2="362.8" stroke="#2a2a2a" stroke-width="1.9500000000000002"/>
<line x1="97.3" y1="364.9" x2="640.3" y2="365.1" stroke="#2a2a2a" stroke-width="1.25"/>
<rect x="96.6" y="331.5" width="11.0" height="7.3" stroke="#2a2a2a" stroke-width="1.4300000000000002" fill="none"/>
<rect x="96.6" y="366.6" width="11.0" height="6.7" stroke="#2a2a2a" stroke-width="1.4300000000000002" fill="none"/>
<rect x="194.0" y="331.5" width="11.8" height="7.3" stroke="#2a2a2a" stroke-width="1.4300000000000002" fill="none"/>
<rect x="194.0" y="366.6" width="11.8" height="6.7" stroke="#2a2a2a" stroke-width="1.4300000000000002" fill="none"/>
<rect x="296.5" y="331.5" width="13.9" height="7.3" stroke="#2a2a2a" stroke-width="1.4300000000000002" fill="none"/>
<rect x="296.5" y="366.6" width="13.9" height="6.7" stroke="#2a2a2a" stroke-width="1.4300000000000002" fill="none"/>
<rect x="400.8" y="331.5" width="13.8" height="7.3" stroke="#2a2a2a" stroke-width="1.4300000000000002" fill="none"/>
<rect x="400.8" y="366.6" width="13.8" height="6.7" stroke="#2a2a2a" stroke-width="1.4300000000000002" fill="none"/>
<rect x="503.5" y="331.5" width="13.9" height="7.3" stroke="#2a2a2a" stroke-width="1.4300000000000002" fill="none"/>
<rect x="503.5" y="366.6" width="13.9" height="6.7" stroke="#2a2a2a" stroke-width="1.4300000000000002" fill="none"/>
<rect x="608.5" y="331.5" width="12.7" height="7.3" stroke="#2a2a2a" stroke-width="1.4300000000000002" fill="none"/>
<rect x="608.5" y="366.6" width="12.7" height="6.7" stroke="#2a2a2a" stroke-width="1.4300000000000002" fill="none"/>
<line x1="100.9" y1="346.0" x2="127.4" y2="346.0" stroke="#2a2a2a" stroke-width="2.3400000000000003"/>
<line x1="100.9" y1="348.5" x2="127.4" y2="348.5" stroke="#333333" stroke-width="1.125"/>
<line x1="100.9" y1="358.5" x2="127.4" y2="358.5" stroke="#333333" stroke-width="1.125"/>
<line x1="100.9" y1="360.0" x2="127.4" y2="360.0" stroke="#2a2a2a" stroke-width="2.3400000000000003"/>
<line x1="127.5" y1="345.8" x2="127.5" y2="360.3" stroke="#333333" stroke-width="1.125"/>
<line x1="98.5" y1="345.0" x2="98.5" y2="361.0" stroke="#333333" stroke-width="1.125"/>
<line x1="100.5" y1="348.6" x2="100.5" y2="358.1" stroke="#333333" stroke-width="1.125"/>
<line x1="608.8" y1="347.0" x2="629.7" y2="347.0" stroke="#2a2a2a" stroke-width="2.6"/>
<line x1="608.8" y1="349.5" x2="629.7" y2="349.5" stroke="#333333" stroke-width="0.875"/>
<line x1="608.8" y1="356.5" x2="629.7" y2="356.5" stroke="#333333" stroke-width="0.875"/>
<line x1="608.8" y1="359.0" x2="629.7" y2="359.0" stroke="#2a2a2a" stroke-width="2.6"/>
<line x1="608.5" y1="346.0" x2="608.5" y2="360.0" stroke="#333333" stroke-width="1.25"/>
<line x1="640.5" y1="333.0" x2="640.5" y2="340.0" stroke="#333333" stroke-width="1.125"/>
<line x1="640.5" y1="365.0" x2="640.5" y2="372.0" stroke="#333333" stroke-width="1.125"/>
<line x1="102.5" y1="321.0" x2="102.5" y2="330.0" stroke="#333333" stroke-width="1.0"/>
<line x1="102.5" y1="375.2" x2="102.5" y2="427.0" stroke="#333333" stroke-width="1.0"/>
<line x1="201.5" y1="320.0" x2="201.5" y2="427.0" stroke="#333333" stroke-width="1.0"/>
<line x1="304.5" y1="320.0" x2="304.5" y2="427.0" stroke="#333333" stroke-width="1.0"/>
<line x1="408.5" y1="320.0" x2="408.5" y2="427.0" stroke="#333333" stroke-width="1.0"/>
<line x1="511.5" y1="320.0" x2="511.5" y2="427.0" stroke="#333333" stroke-width="1.0"/>
<line x1="615.5" y1="320.0" x2="615.5" y2="343.0" stroke="#333333" stroke-width="1.0"/>
<line x1="615.5" y1="362.0" x2="615.5" y2="427.0" stroke="#333333" stroke-width="1.0"/>
<line x1="93.5" y1="372.0" x2="93.5" y2="427.0" stroke="#333333" stroke-width="1.0"/>
<line x1="644.5" y1="374.6" x2="644.5" y2="430.0" stroke="#333333" stroke-width="1.0"/>
<line x1="88.5" y1="424.5" x2="655.3" y2="424.5" stroke="#333333" stroke-width="1.25"/>
<line x1="91.6" y1="426.9" x2="94.8" y2="421.7" stroke="#2a2a2a" stroke-width="1.4300000000000002"/>
<line x1="100.7" y1="426.9" x2="103.9" y2="421.7" stroke="#2a2a2a" stroke-width="1.4300000000000002"/>
<line x1="199.8" y1="426.9" x2="203.0" y2="421.7" stroke="#2a2a2a" stroke-width="1.4300000000000002"/>
<line x1="302.5" y1="426.9" x2="305.7" y2="421.7" stroke="#2a2a2a" stroke-width="1.4300000000000002"/>
<line x1="406.8" y1="426.9" x2="410.0" y2="421.7" stroke="#2a2a2a" stroke-width="1.4300000000000002"/>
<line x1="509.5" y1="426.9" x2="512.7" y2="421.7" stroke="#2a2a2a" stroke-width="1.4300000000000002"/>
<line x1="614.0" y1="426.9" x2="617.2" y2="421.7" stroke="#2a2a2a" stroke-width="1.4300000000000002"/>
<line x1="642.6" y1="426.9" x2="645.8" y2="421.7" stroke="#2a2a2a" stroke-width="1.4300000000000002"/>
<text transform="translate(81.5,418.6) skewX(-9)" x="0" y="0" font-size="11.43" font-style="italic" font-weight="normal" fill="#1e1e1e" stroke="#1e1e1e" stroke-width="0.22" textLength="14.5" lengthAdjust="spacingAndGlyphs">130</text>
<text transform="translate(134.7,418.8) skewX(-9)" x="0" y="0" font-size="12.03" font-style="italic" font-weight="normal" fill="#1e1e1e" stroke="#1e1e1e" stroke-width="0.22" textLength="29.7" lengthAdjust="spacingAndGlyphs">1460</text>
<text transform="translate(239.3,418.8) skewX(-9)" x="0" y="0" font-size="12.03" font-style="italic" font-weight="normal" fill="#1e1e1e" stroke="#1e1e1e" stroke-width="0.22" textLength="31.3" lengthAdjust="spacingAndGlyphs">1500</text>
<text transform="translate(339.4,418.8) skewX(-9)" x="0" y="0" font-size="12.03" font-style="italic" font-weight="normal" fill="#1e1e1e" stroke="#1e1e1e" stroke-width="0.22" textLength="29.9" lengthAdjust="spacingAndGlyphs">1500</text>
<text transform="translate(438.6,418.8) skewX(-9)" x="0" y="0" font-size="12.03" font-style="italic" font-weight="normal" fill="#1e1e1e" stroke="#1e1e1e" stroke-width="0.22" textLength="29.7" lengthAdjust="spacingAndGlyphs">1500</text>
<text transform="translate(551.5,418.8) skewX(-9)" x="0" y="0" font-size="12.03" font-style="italic" font-weight="normal" fill="#1e1e1e" stroke="#1e1e1e" stroke-width="0.22" textLength="32.3" lengthAdjust="spacingAndGlyphs">1500</text>
<text transform="translate(619.6,418.8) skewX(-9)" x="0" y="0" font-size="12.03" font-style="italic" font-weight="normal" fill="#1e1e1e" stroke="#1e1e1e" stroke-width="0.22" textLength="20.7" lengthAdjust="spacingAndGlyphs">390</text>
<text transform="translate(218.3,305.8) skewX(-9)" x="0" y="0" font-size="12.03" font-style="italic" font-weight="normal" fill="#1e1e1e" stroke="#1e1e1e" stroke-width="0.22" textLength="22.0" lengthAdjust="spacingAndGlyphs">М.3</text>
<line x1="211.7" y1="307.5" x2="248.0" y2="307.5" stroke="#333333" stroke-width="1.125"/>
<line x1="211.7" y1="307.3" x2="201.4" y2="327.0" stroke="#333333" stroke-width="1.0"/>
<line x1="211.7" y1="307.3" x2="202.0" y2="366.0" stroke="#333333" stroke-width="1.0"/>
<line x1="182.0" y1="392.5" x2="217.2" y2="392.5" stroke="#333333" stroke-width="1.125"/>
<line x1="192.9" y1="394.8" x2="196.1" y2="389.6" stroke="#2a2a2a" stroke-width="1.4300000000000002"/>
<line x1="199.8" y1="394.8" x2="203.0" y2="389.6" stroke="#2a2a2a" stroke-width="1.4300000000000002"/>
<line x1="205.0" y1="394.8" x2="208.2" y2="389.6" stroke="#2a2a2a" stroke-width="1.4300000000000002"/>
<line x1="194.5" y1="372.8" x2="194.5" y2="395.0" stroke="#333333" stroke-width="0.875"/>
<line x1="206.5" y1="372.8" x2="206.5" y2="395.0" stroke="#333333" stroke-width="0.875"/>
<text transform="translate(172.1,390.0) skewX(-9)" x="0" y="0" font-size="10.53" font-style="italic" font-weight="normal" fill="#1e1e1e" stroke="#1e1e1e" stroke-width="0.22" textLength="15.4" lengthAdjust="spacingAndGlyphs">100</text>
<text transform="translate(210.6,390.0) skewX(-9)" x="0" y="0" font-size="10.53" font-style="italic" font-weight="normal" fill="#1e1e1e" stroke="#1e1e1e" stroke-width="0.22" textLength="15.4" lengthAdjust="spacingAndGlyphs">100</text>
<text transform="translate(231.8,360.7) rotate(-90) skewX(-9)" x="0" y="0" font-size="9.77" font-style="italic" fill="#1e1e1e" stroke="#1e1e1e" stroke-width="0.22" textLength="14.3" lengthAdjust="spacingAndGlyphs">100</text>
<text transform="translate(231.8,381.6) rotate(-90) skewX(-9)" x="0" y="0" font-size="9.77" font-style="italic" fill="#1e1e1e" stroke="#1e1e1e" stroke-width="0.22" textLength="9.9" lengthAdjust="spacingAndGlyphs">10</text>
<line x1="232.5" y1="338.0" x2="232.5" y2="386.0" stroke="#333333" stroke-width="1.0"/>
<line x1="206.0" y1="365.5" x2="236.0" y2="365.5" stroke="#333333" stroke-width="0.75"/>
<line x1="206.0" y1="372.5" x2="236.0" y2="372.5" stroke="#333333" stroke-width="0.75"/>
<line x1="230.6" y1="344.4" x2="234.6" y2="342.0" stroke="#2a2a2a" stroke-width="1.4300000000000002"/>
<line x1="230.6" y1="366.4" x2="234.6" y2="364.0" stroke="#2a2a2a" stroke-width="1.4300000000000002"/>
<line x1="230.6" y1="374.0" x2="234.6" y2="371.6" stroke="#2a2a2a" stroke-width="1.4300000000000002"/>
<text transform="translate(771.1,337.5) skewX(-9)" x="0" y="0" font-size="10.83" font-style="italic" font-weight="normal" fill="#1e1e1e" stroke="#1e1e1e" stroke-width="0.22" textLength="7.8" lengthAdjust="spacingAndGlyphs">5</text>
<text transform="translate(818.8,337.5) skewX(-9)" x="0" y="0" font-size="10.83" font-style="italic" font-weight="normal" fill="#1e1e1e" stroke="#1e1e1e" stroke-width="0.22" textLength="9.7" lengthAdjust="spacingAndGlyphs">5</text>
<line x1="777.2" y1="340.5" x2="786.7" y2="340.5" stroke="#333333" stroke-width="1.0"/>
<line x1="808.3" y1="340.5" x2="817.0" y2="340.5" stroke="#333333" stroke-width="1.0"/>
<line x1="778.2" y1="342.4" x2="780.6" y2="338.4" stroke="#2a2a2a" stroke-width="1.4300000000000002"/>
<line x1="780.3" y1="342.4" x2="782.7" y2="338.4" stroke="#2a2a2a" stroke-width="1.4300000000000002"/>
<line x1="811.5" y1="342.4" x2="813.9" y2="338.4" stroke="#2a2a2a" stroke-width="1.4300000000000002"/>
<line x1="813.5" y1="342.4" x2="815.9" y2="338.4" stroke="#2a2a2a" stroke-width="1.4300000000000002"/>
<line x1="779.5" y1="338.0" x2="779.5" y2="361.0" stroke="#2a2a2a" stroke-width="1.125"/>
<line x1="781.5" y1="338.0" x2="781.5" y2="361.0" stroke="#2a2a2a" stroke-width="1.125"/>
<line x1="780.5" y1="361.0" x2="776.7" y2="404.0" stroke="#2a2a2a" stroke-width="1.4300000000000002"/>
<line x1="812.5" y1="338.0" x2="812.5" y2="361.0" stroke="#2a2a2a" stroke-width="1.125"/>
<line x1="814.5" y1="338.0" x2="814.5" y2="361.0" stroke="#2a2a2a" stroke-width="1.125"/>
<line x1="813.7" y1="361.0" x2="816.3" y2="404.0" stroke="#2a2a2a" stroke-width="1.4300000000000002"/>
<rect x="780.9" y="360.3" width="3.2" height="12.1" stroke="#2a2a2a" stroke-width="1.125" fill="none"/>
<line x1="782.5" y1="361.0" x2="782.5" y2="372.0" stroke="#333333" stroke-width="1.0"/>
<rect x="811.0" y="360.3" width="2.5" height="12.1" stroke="#2a2a2a" stroke-width="1.125" fill="none"/>
<line x1="812.5" y1="361.0" x2="812.5" y2="372.0" stroke="#333333" stroke-width="1.0"/>
<line x1="753.0" y1="357.5" x2="874.6" y2="357.5" stroke="#333333" stroke-width="1.0"/>
<line x1="753.0" y1="360.5" x2="782.0" y2="360.5" stroke="#333333" stroke-width="0.875"/>
<line x1="753.0" y1="372.5" x2="782.0" y2="372.5" stroke="#333333" stroke-width="0.875"/>
<line x1="755.5" y1="349.0" x2="755.5" y2="374.0" stroke="#333333" stroke-width="1.0"/>
<line x1="753.6" y1="358.9" x2="757.6" y2="356.5" stroke="#2a2a2a" stroke-width="1.4300000000000002"/>
<line x1="753.6" y1="362.0" x2="757.6" y2="359.6" stroke="#2a2a2a" stroke-width="1.4300000000000002"/>
<line x1="753.6" y1="373.6" x2="757.6" y2="371.2" stroke="#2a2a2a" stroke-width="1.4300000000000002"/>
<text transform="translate(748.6,349.9) rotate(-90) skewX(-9)" x="0" y="0" font-size="9.17" font-style="italic" fill="#1e1e1e" stroke="#1e1e1e" stroke-width="0.22" textLength="9.5" lengthAdjust="spacingAndGlyphs">35</text>
<text transform="translate(748.6,372.4) rotate(-90) skewX(-9)" x="0" y="0" font-size="9.17" font-style="italic" fill="#1e1e1e" stroke="#1e1e1e" stroke-width="0.22" textLength="14.7" lengthAdjust="spacingAndGlyphs">100</text>
<line x1="779.8" y1="381.5" x2="818.7" y2="381.5" stroke="#333333" stroke-width="1.125" stroke-dasharray="5,2"/>
<line x1="766.0" y1="383.5" x2="834.3" y2="383.5" stroke="#333333" stroke-width="0.875"/>
<line x1="779.8" y1="386.5" x2="818.7" y2="386.5" stroke="#333333" stroke-width="1.125" stroke-dasharray="5,2"/>
<text transform="translate(746.0,388.0) skewX(-9)" x="0" y="0" font-size="10.53" font-style="italic" font-weight="normal" fill="#1e1e1e" stroke="#1e1e1e" stroke-width="0.22" textLength="10.4" lengthAdjust="spacingAndGlyphs">10</text>
<line x1="745.2" y1="389.5" x2="761.6" y2="389.5" stroke="#333333" stroke-width="0.875"/>
<text transform="translate(840.3,388.0) skewX(-9)" x="0" y="0" font-size="10.53" font-style="italic" font-weight="normal" fill="#1e1e1e" stroke="#1e1e1e" stroke-width="0.22" textLength="9.7" lengthAdjust="spacingAndGlyphs">10</text>
<line x1="830.8" y1="389.5" x2="850.0" y2="389.5" stroke="#333333" stroke-width="0.875"/>
<polyline points="759.6,388.0 759.6,405.0 760.5,412.0 780.4,449.2 815.0,449.2 833.0,412.0 834.0,405.0 834.0,388.0" stroke="#2a2a2a" stroke-width="1.56" fill="none" stroke-linejoin="round"/>
<polyline points="761.8,388.0 761.8,403.5 776.7,403.5" stroke="#2a2a2a" stroke-width="1.25" fill="none" stroke-linejoin="round"/>
<polyline points="816.3,403.5 831.8,403.5 831.8,388.0" stroke="#2a2a2a" stroke-width="1.25" fill="none" stroke-linejoin="round"/>
<rect x="763.4" y="400.5" width="10.3" height="3.0" stroke="#2a2a2a" stroke-width="1.0" fill="none"/>
<rect x="819.5" y="400.5" width="10.5" height="3.0" stroke="#2a2a2a" stroke-width="1.0" fill="none"/>
<line x1="797.5" y1="385.0" x2="797.5" y2="420.0" stroke="#333333" stroke-width="0.75" stroke-dasharray="4,2,1,2"/>
<line x1="815.0" y1="449.5" x2="878.5" y2="449.5" stroke="#333333" stroke-width="1.0"/>
<line x1="870.5" y1="354.0" x2="870.5" y2="452.0" stroke="#333333" stroke-width="1.125"/>
<line x1="868.2" y1="359.3" x2="873.4" y2="356.1" stroke="#2a2a2a" stroke-width="1.4300000000000002"/>
<line x1="868.2" y1="450.8" x2="873.4" y2="447.6" stroke="#2a2a2a" stroke-width="1.4300000000000002"/>
<text transform="translate(869.6,423.3) rotate(-90) skewX(-9)" x="0" y="0" font-size="11.28" font-style="italic" fill="#1e1e1e" stroke="#1e1e1e" stroke-width="0.22" textLength="25.3" lengthAdjust="spacingAndGlyphs">800</text>
<line x1="780.5" y1="449.2" x2="780.5" y2="476.0" stroke="#333333" stroke-width="1.0"/>
<line x1="815.5" y1="449.2" x2="815.5" y2="476.0" stroke="#333333" stroke-width="1.0"/>
<line x1="776.5" y1="473.5" x2="818.8" y2="473.5" stroke="#333333" stroke-width="1.125"/>
<line x1="778.8" y1="476.4" x2="782.0" y2="471.2" stroke="#2a2a2a" stroke-width="1.4300000000000002"/>
<line x1="813.4" y1="476.4" x2="816.6" y2="471.2" stroke="#2a2a2a" stroke-width="1.4300000000000002"/>
<text transform="translate(787.0,469.4) skewX(-9)" x="0" y="0" font-size="11.73" font-style="italic" font-weight="normal" fill="#1e1e1e" stroke="#1e1e1e" stroke-width="0.22" textLength="19.3" lengthAdjust="spacingAndGlyphs">300</text>
</svg>
</body></html>
